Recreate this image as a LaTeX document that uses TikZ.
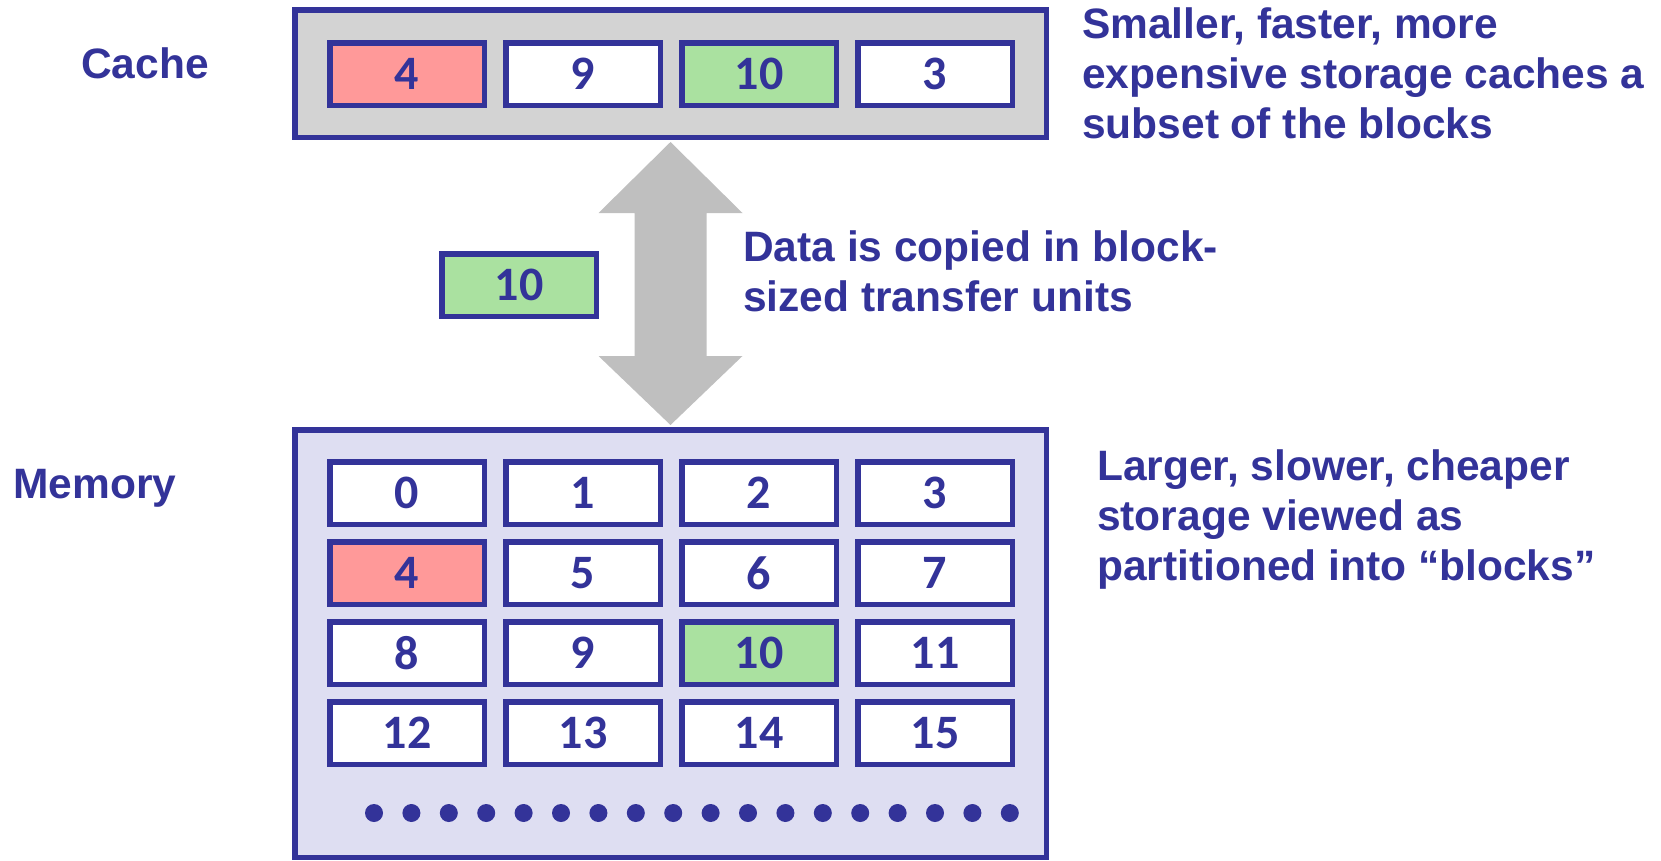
\documentclass[tikz,border=0pt]{standalone}
\usepackage{fontspec}
\usetikzlibrary{calc}
\setmainfont{Liberation Sans}
\newfontfamily\numfont{Carlito}
\definecolor{navy}{RGB}{51,51,153}
\definecolor{cachegray}{RGB}{211,211,211}
\definecolor{memfill}{RGB}{222,222,242}
\definecolor{hitred}{RGB}{255,153,153}
\definecolor{hitgreen}{RGB}{170,225,160}
\definecolor{arrowgray}{RGB}{191,191,191}
\tikzset{
  frame/.style={draw=navy, line width=5.5pt, inner sep=0pt},
  cell/.style={draw=navy, line width=5.5pt, fill=white, inner sep=0pt,
    minimum width=154.5pt, minimum height=62.5pt, text=navy,
    font=\numfont\bfseries\fontsize{48}{48}\selectfont},
  red/.style={fill=hitred},
  green/.style={fill=hitgreen},
  label/.style={text=navy, inner sep=0pt,
    font=\bfseries\fontsize{42.5}{50}\selectfont},
  note/.style={label, align=left, anchor=north west},
}
\begin{document}
\begin{tikzpicture}[x=1pt, y=-1pt]
\useasboundingbox (0,0) rectangle (1661,860);

% storage levels
\node[frame, fill=cachegray, minimum width=751.5pt, minimum height=127.5pt] (cache) at (670.5,73.5) {};
\node[frame, fill=memfill, minimum width=751.5pt, minimum height=427.5pt] (mem) at (670.5,643.5) {};

% level names
\node[label, anchor=base] (cachelbl) at (145,78) {Cache};
\node[label, anchor=base] (memlbl) at (95,498) {Memory};

% cached blocks
\node[cell, red]   (c0) at (407,74) {4};
\node[cell]        (c1) at (583,74) {9};
\node[cell, green] (c2) at (759,74) {10};
\node[cell]        (c3) at (935,74) {3};

% memory blocks
\foreach \n/\col/\row/\sty in {0/0/0/, 1/1/0/, 2/2/0/, 3/3/0/,
                                4/0/1/red, 5/1/1/, 6/2/1/, 7/3/1/,
                                8/0/2/, 9/1/2/, 10/2/2/green, 11/3/2/,
                                12/0/3/, 13/1/3/, 14/2/3/, 15/3/3/}
  \node[cell, \sty] (m\n) at (407+176*\col, 493+80*\row) {\n};

% more blocks follow
\foreach \i in {0,...,17}
  \fill[navy] (374+37.4*\i, 813) circle (9pt);

% two-way transfer arrow between the levels
\coordinate (at) at ($(cache.south)+(0,2)$);
\coordinate (ab) at ($(mem.north)+(0,-2)$);
\fill[arrowgray] (at) -- ([shift={(72,71)}]at) -- ([shift={(36,71)}]at)
  -- ([shift={(36,-69)}]ab) -- ([shift={(72,-69)}]ab) -- (ab)
  -- ([shift={(-72,-69)}]ab) -- ([shift={(-36,-69)}]ab)
  -- ([shift={(-36,71)}]at) -- ([shift={(-72,71)}]at) -- cycle;

% block in transit
\node[cell, green] (xfer) at (519,285) {10};

% descriptions
\node[note] (cachenote) at (1082,7) {Smaller, faster, more\\expensive storage caches a\\subset of the blocks};
\node[note] (xfernote) at (743,230) {Data is copied in block-\\sized transfer units};
\node[note] (memnote) at (1097,449) {Larger, slower, cheaper\\storage viewed as\\partitioned into “blocks”};
\end{tikzpicture}
\end{document}
